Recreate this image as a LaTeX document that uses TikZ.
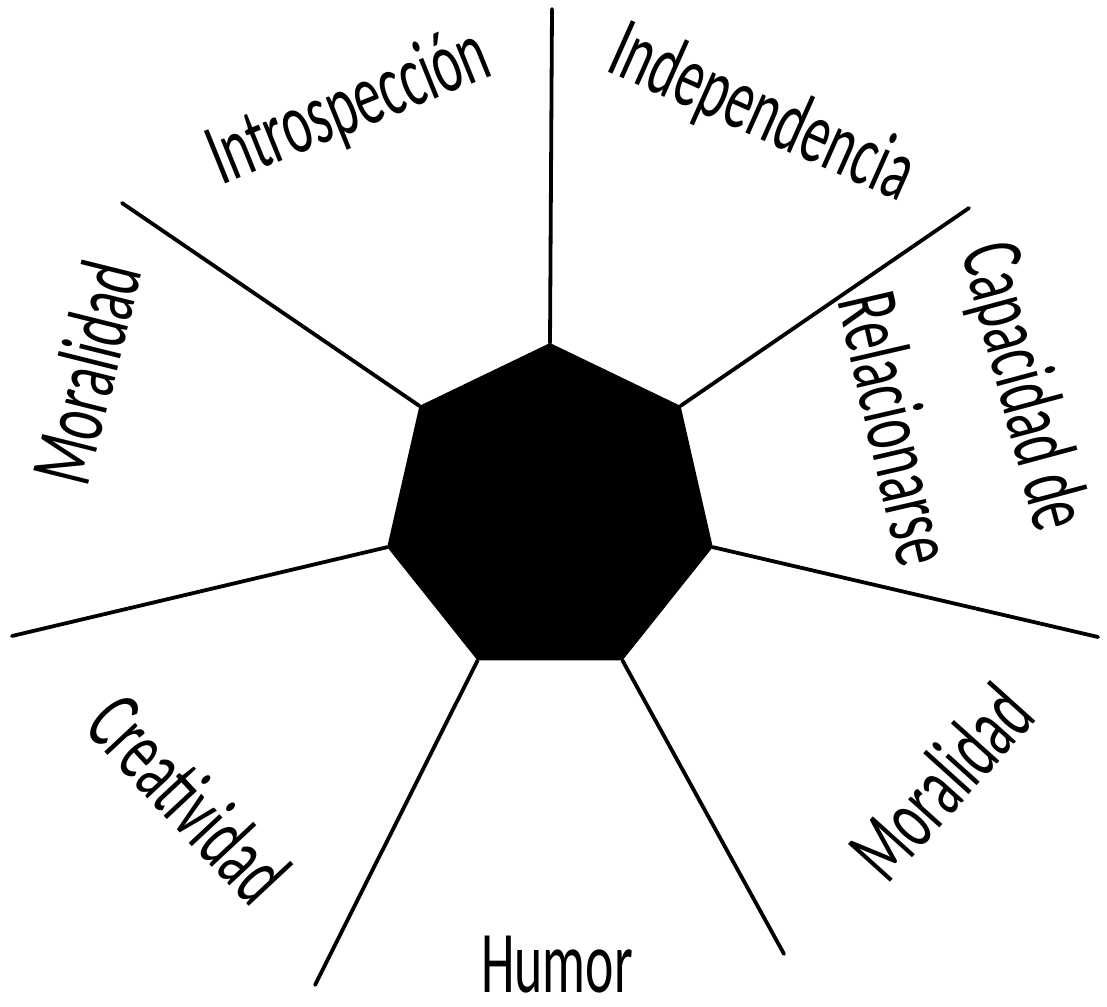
\documentclass[tikz,border=0pt]{standalone}
\usepackage{fontspec}
\usepackage{tikz}
\usetikzlibrary{shapes.geometric}
\newfontfamily\labelfont[FakeStretch=0.61]{Carlito}

\begin{document}
\begin{tikzpicture}[
  x=1pt,y=-1pt,
  core/.style={regular polygon, regular polygon sides=7, minimum size=334pt, inner sep=0pt, outer sep=0pt, fill=black},
  spoke/.style={line width=3.8pt, line cap=round},
  lab/.style={font=\labelfont\fontsize{88}{100}\selectfont, inner sep=0pt, anchor=base}
]
\useasboundingbox (0,0) rectangle (1107,1006);
\node[core] (hept) at (550,510) {};
\coordinate (eN) at (552,9);
\coordinate (eNW) at (122,203);
\coordinate (eW) at (12,636);
\coordinate (eSW) at (315,985);
\coordinate (eSE) at (784,954);
\coordinate (eE) at (1098,637);
\coordinate (eNE) at (969,208);
\foreach \c/\e in {1/eN,2/eNW,3/eW,4/eSW,5/eSE,6/eE,7/eNE}{\draw[spoke] (hept.corner \c) -- (\e);}
\node[lab, rotate=22] (intro) at (358,130) {Introspección};
\node[lab, rotate=-24] (indep) at (752,136) {Independencia};
\node[lab, rotate=-75] (capac) at (999,393) {Capacidad de};
\node[lab, rotate=-77] (relac) at (868,435) {Relacionarse};
\node[lab, rotate=76] (moralL) at (115,380) {Moralidad};
\node[lab, rotate=-47] (creat) at (167,819) {Creatividad};
\node[lab] (humor) at (557,992) {Humor};
\node[lab, rotate=48] (moralR) at (963,802) {Moralidad};
\end{tikzpicture}
\end{document}
